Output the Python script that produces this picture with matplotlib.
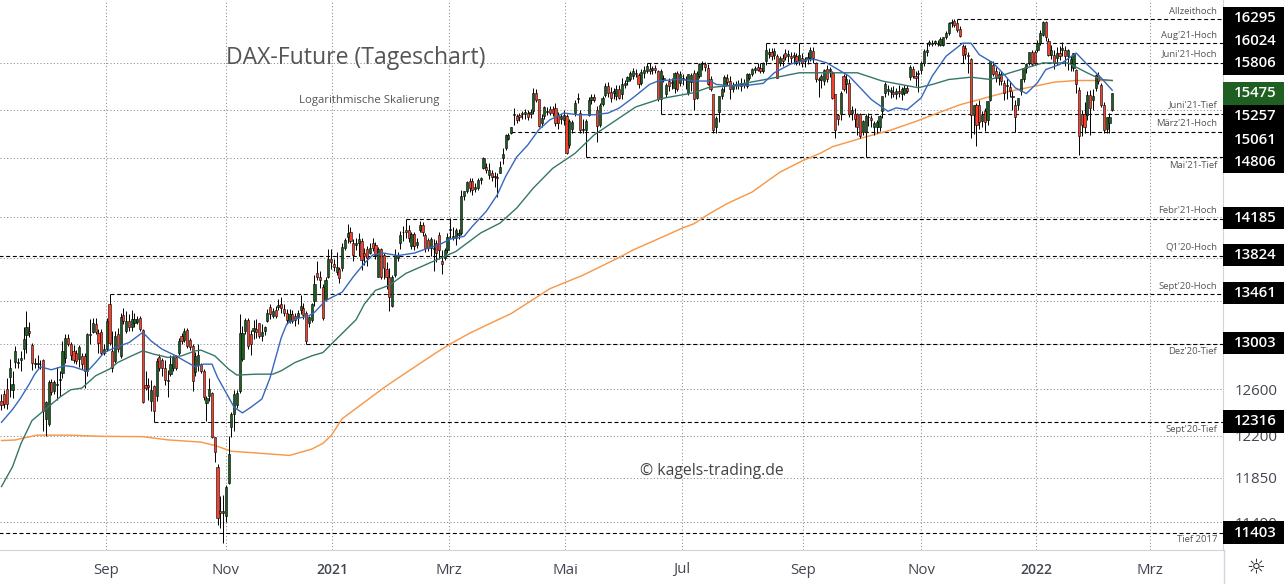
import numpy as np
import matplotlib
matplotlib.use("Agg")
import matplotlib.pyplot as plt
from matplotlib.patches import Rectangle
from matplotlib.ticker import NullLocator

plt.rcParams['font.family'] = ['Open Sans', 'DejaVu Sans']

opens = [
    12500,12557,12600,12704,12590,12840,12830,12860,12955,13086,
    13123,12994,12835,12820,12825,12855,12343,12300,12660,12585,
    12640,12680,12740,12880,13060,13000,12935,12925,12870,12895,
    12895,12757,13092,13108,13184,13098,13108,12925,12955,13370,
    12940,12852,13092,12895,13270,13123,13215,13154,13190,13200,
    13240,13130,12640,12640,12495,12630,12545,12885,12855,12786,
    12680,12735,12786,12882,12925,13077,13036,13130,13036,12985,
    12750,12810,12822,12763,12477,12545,12565,12190,11935,11575,
    11560,11535,11805,12272,12386,12460,12585,12865,13123,13220,
    13090,13120,13140,13190,13077,13123,13215,13338,13260,13310,
    13340,13365,13320,13290,13210,13280,13262,13250,13310,13335,
    13290,13190,13225,13400,13662,13620,13530,13416,13624,13797,
    13750,13670,13695,13705,13900,14010,14055,13950,13930,13950,
    13970,13850,13890,13855,13950,13930,13625,13890,13835,13700,
    13624,13352,13640,13800,13947,14055,14070,14077,13915,14038,
    13930,14070,14125,14028,13980,13897,13890,13947,14028,13770,
    13800,13882,14075,14000,13996,14030,14045,14407,14457,14557,
    14557,14480,14490,14570,14690,14707,14623,14640,14600,14600,
    14640,14800,14895,14990,15054,15247,15230,15240,15265,15250,
    15265,15260,15283,15476,15412,15160,15237,15280,15307,15307,
    15318,15247,15200,15187,15237,14930,15100,15265,15420,15265,
    15090,15090,15247,15400,15440,15300,15142,15360,15460,15555,
    15494,15480,15446,15525,15464,15560,15608,15626,15662,15700,
    15670,15590,15700,15720,15734,15725,15752,15716,15410,15630,
    15465,15608,15600,15536,15698,15590,15630,15620,15482,15600,
    15698,15428,15662,15790,15790,15752,15626,15464,15122,15274,
    15446,15554,15640,15608,15520,15570,15575,15550,15590,15554,
    15640,15680,15730,15760,15745,15720,15824,15900,15930,15890,
    15880,15806,15860,15920,15880,15880,15870,15880,15824,15860,
    15830,15850,15862,15940,15806,15630,15620,15608,15734,15720,
    15698,15464,15240,15250,15662,15572,15590,15270,15260,15250,
    15250,15068,15068,15220,15210,15122,15120,15122,15290,15482,
    15500,15490,15490,15470,15500,15464,15482,15530,15648,15734,
    15660,15690,15726,15806,15930,16020,16030,16030,16030,16006,
    16006,16090,16136,16250,16270,16250,16180,15990,15970,15895,
    15850,15246,15355,15355,15180,15282,15190,15405,15788,15715,
    15640,15680,15589,15550,15540,15440,15355,15355,15500,15625,
    15750,15806,15922,15922,15950,16030,16120,16260,16043,15890,
    15897,15860,15910,15950,15950,15878,15800,15752,15733,15516,
    15250,15250,15246,15462,15400,15535,15679,15560,15354,15100,
    15157,15296]
highs = [
    12560,12590,12700,12870,12760,12985,12880,12940,13154,13308,
    13200,13015,12880,12905,12860,12865,12500,12680,12690,12680,
    12800,12765,13030,13090,13092,13020,12990,12950,12990,12920,
    12920,13100,13230,13240,13240,13140,13140,13000,13240,13461,
    13125,13125,13150,13290,13330,13300,13280,13310,13290,13260,
    13260,13140,12760,12700,12680,12640,12880,12910,12880,12855,
    12770,12900,12900,12900,13060,13100,13150,13150,13060,13000,
    12930,13000,12835,12775,12545,12700,12575,12190,11965,11700,
    11710,11790,12200,12400,12590,12590,13280,13170,13240,13240,
    13130,13220,13230,13195,13185,13170,13320,13365,13330,13350,
    13420,13430,13370,13320,13320,13310,13290,13310,13450,13380,
    13300,13260,13380,13640,13770,13680,13560,13620,13890,13890,
    13790,13860,13720,13950,14000,14130,14100,13990,14000,14040,
    13995,13900,13920,13950,14000,13960,13905,13900,13850,13760,
    13705,13640,13890,13860,14060,14110,14185,14120,14050,14050,
    14000,14160,14150,14040,14000,14010,13990,13980,14050,13880,
    13900,14040,14190,14100,14090,14080,14470,14460,14560,14590,
    14590,14540,14590,14600,14810,14740,14740,14670,14650,14640,
    14760,14900,15040,15060,15120,15320,15260,15270,15290,15310,
    15300,15310,15530,15520,15420,15250,15340,15330,15345,15340,
    15370,15280,15250,15300,15250,15200,15190,15400,15480,15300,
    15200,15200,15440,15470,15470,15340,15370,15450,15590,15600,
    15540,15530,15560,15570,15640,15620,15660,15720,15752,15740,
    15700,15740,15770,15806,15806,15770,15780,15730,15735,15670,
    15590,15640,15640,15710,15720,15720,15680,15660,15690,15700,
    15730,15720,15810,15830,15820,15790,15660,15470,15230,15450,
    15540,15670,15680,15660,15600,15610,15620,15640,15630,15700,
    15700,15750,15770,15810,15800,15815,16024,15970,15970,15970,
    15900,15880,15900,15960,15950,15930,15930,15920,16024,15910,
    15870,15930,15980,15980,15820,15650,15680,15740,15780,15760,
    15720,15470,15260,15500,15690,15680,15630,15338,15320,15265,
    15265,15190,15260,15265,15240,15180,15190,15240,15450,15600,
    15560,15540,15550,15530,15560,15540,15560,15570,15780,15770,
    15720,15730,15830,15960,16024,16060,16060,16060,16060,16090,
    16090,16160,16260,16290,16295,16295,16220,16020,16000,15925,
    15860,15355,15370,15400,15290,15320,15390,15830,15830,15760,
    15720,15720,15620,15640,15610,15500,15400,15430,15630,15760,
    15800,15930,15950,15950,16060,16170,16270,16270,16080,16000,
    15950,15980,15990,16040,15990,15960,15880,15920,15740,15540,
    15300,15380,15500,15510,15520,15690,15710,15590,15380,15228,
    15270,15480]
lows = [
    12420,12440,12430,12530,12520,12790,12790,12760,12865,12925,
    13070,12770,12790,12790,12775,12243,12200,12280,12550,12560,
    12510,12540,12700,12830,12980,12860,12830,12820,12800,12780,
    12610,12720,13000,13100,13090,12920,12900,12900,12940,12990,
    12750,12830,12930,12880,13180,13100,13120,13120,13160,13180,
    13120,12480,12590,12510,12410,12316,12500,12760,12720,12640,
    12530,12720,12760,12770,12900,13000,13020,12970,12950,12585,
    12720,12760,12740,12505,12325,12500,12180,11983,11465,11440,
    11320,11490,11800,12190,12240,12440,12570,12850,13090,12960,
    12900,13050,13060,13060,13030,13080,13200,13230,13240,13240,
    13310,13290,13260,13180,13190,13190,13170,13180,13280,13230,
    13003,13160,13200,13350,13590,13520,13220,13400,13610,13700,
    13680,13640,13570,13680,13880,13950,13950,13770,13880,13820,
    13690,13740,13730,13840,13870,13790,13620,13600,13600,13510,
    13300,13340,13620,13770,13890,13970,14000,13960,13890,13880,
    13900,14050,14020,13860,13870,13820,13680,13760,13790,13650,
    13780,13850,14000,13980,13930,13990,14030,14370,14440,14450,
    14420,14450,14470,14530,14680,14640,14580,14560,14500,14400,
    14640,14730,14880,14980,15040,15140,15160,15180,15200,15200,
    15190,15210,15260,15380,15120,15120,15200,15240,15240,15230,
    15130,15100,15150,15140,14840,14900,15060,15230,15370,15060,
    15060,14806,15230,15360,15380,14960,15120,15340,15440,15440,
    15380,15420,15400,15410,15420,15530,15570,15610,15630,15650,
    15530,15560,15640,15700,15690,15690,15700,15390,15257,15600,
    15440,15500,15520,15480,15500,15550,15570,15520,15460,15500,
    15300,15410,15640,15730,15720,15560,15500,15050,15050,15170,
    15420,15490,15560,15420,15490,15520,15520,15500,15530,15530,
    15620,15660,15700,15720,15700,15700,15780,15860,15840,15850,
    15640,15770,15770,15840,15820,15800,15790,15780,15780,15760,
    15760,15790,15830,15800,15600,15440,15530,15570,15600,15650,
    15420,15000,15140,15190,15500,15480,15220,15190,15120,15030,
    15000,15030,14806,15130,15120,15030,15060,15080,15210,15440,
    15460,15430,15440,15420,15440,15400,15460,15480,15620,15640,
    15550,15490,15690,15770,15880,15990,15990,16000,15990,15990,
    15990,16070,16120,16200,16210,16150,16090,15800,15850,15700,
    15000,15040,14920,15100,15120,15080,15140,15390,15660,15600,
    15570,15560,15400,15410,15440,15300,15061,15300,15460,15600,
    15700,15780,15770,15780,15930,16000,16100,16050,15880,15850,
    15740,15780,15840,15880,15770,15730,15720,15720,15480,14830,
    15020,15050,15190,15030,15300,15500,15580,15330,15060,15060,
    15060,15290]
closes = [
    12460,12470,12470,12787,12650,12935,12840,12880,13046,13154,
    13098,12830,12820,12835,12820,12415,12487,12660,12580,12660,
    12650,12690,12940,13060,13005,12900,12860,12850,12975,12822,
    12757,13090,13080,13190,13108,13015,12925,12955,13215,13015,
    12792,13077,12955,13252,13210,13215,13154,13230,13230,13230,
    13138,12485,12610,12620,12590,12415,12850,12786,12786,12680,
    12670,12825,12885,12786,13030,13030,13117,12985,12975,12670,
    12895,12905,12763,12535,12520,12600,12185,12063,11525,11560,
    11580,11770,12050,12386,12560,12570,13100,13100,13220,12985,
    13000,13150,13110,13077,13108,13154,13290,13280,13300,13260,
    13360,13335,13290,13225,13280,13210,13225,13290,13350,13265,
    13030,13245,13370,13560,13624,13590,13240,13590,13790,13760,
    13720,13720,13610,13907,13980,14040,13970,13835,13950,13985,
    13785,13820,13800,13900,13900,13835,13890,13625,13705,13620,
    13432,13624,13832,13830,14028,14058,14055,13996,14038,13915,
    13960,14125,14050,13897,13897,13985,13900,13850,13882,13750,
    13880,14005,14085,14020,14078,14045,14407,14457,14547,14490,
    14473,14500,14573,14590,14800,14673,14673,14600,14607,14590,
    14700,14842,15036,15036,15117,15260,15194,15220,15250,15275,
    15222,15275,15476,15405,15130,15212,15328,15290,15265,15265,
    15160,15160,15230,15247,14850,15177,15170,15377,15430,15090,
    15100,15177,15405,15440,15400,15124,15352,15430,15555,15476,
    15423,15500,15525,15428,15572,15590,15655,15698,15716,15690,
    15572,15705,15725,15775,15716,15752,15725,15410,15716,15640,
    15568,15554,15590,15698,15526,15680,15640,15630,15680,15670,
    15410,15698,15795,15800,15760,15572,15518,15086,15212,15446,
    15518,15655,15600,15518,15570,15580,15560,15590,15560,15680,
    15680,15734,15745,15730,15720,15806,15950,15930,15885,15940,
    15644,15860,15830,15870,15900,15860,15890,15830,15898,15806,
    15850,15870,15950,15862,15626,15620,15660,15726,15626,15735,
    15428,15086,15200,15482,15518,15626,15250,15300,15200,15122,
    15025,15176,15238,15225,15190,15158,15170,15230,15446,15572,
    15518,15510,15470,15500,15480,15518,15536,15500,15763,15662,
    15640,15700,15806,15933,15950,16032,16020,16043,16020,16068,
    16090,16136,16250,16260,16230,16170,16100,15890,15900,15880,
    15246,15350,15140,15175,15240,15175,15390,15824,15680,15640,
    15680,15607,15480,15560,15500,15450,15228,15426,15625,15750,
    15790,15922,15790,15806,16030,16136,16260,16090,15897,15950,
    15806,15915,15880,15975,15878,15950,15850,15915,15571,15025,
    15140,15120,15462,15318,15444,15679,15607,15354,15086,15228,
    15228,15475]

blue_x = [0,4,7,10,12,14,18,23,26,31,34,37,41,46,51,54,58,63,66,70,73,76,78,82,84,87,90,94,97,101,103,106,111,
          113,117,123,127,131,134,138,143,149,154,158,162,167,170,175,179,182,186,190,194,198,203,208,214,219,223,
          228,234,237,244,252,256,258,264,269,275,279,285,291,294,298,301,306,310,314,320,323,327,
          332,336,341,347,350,353,358,362,366,370,374,377,382,388,392,397,401]
blue_y = [12314,12425,12527,12645,12733,12798,12772,12808,12798,12757,12837,12925,12970,13015,13108,13030,12955,12896,12852,12798,12822,12822,12705,12530,12443,12395,12443,12515,12704,13060,13185,13230,13260,
          13292,13400,13480,13624,13752,13832,13850,13826,13850,13897,13930,13985,14012,14110,14257,14423,14607,14806,14930,15090,15194,15265,15247,15247,15265,15318,
          15428,15572,15608,15626,15608,15608,15572,15554,15561,15583,15698,15795,15842,15842,15806,15752,15662,15536,15410,15284,15320,15302,
          15426,15661,15879,16024,16024,15897,15806,15679,15535,15473,15589,15733,15788,15915,15788,15643,15509]
green_x = [0,4,7,11,16,21,25,29,34,39,42,47,51,55,60,65,70,72,77,82,85,92,98,101,106,112,116,
           128,131,135,140,146,157,164,173,180,186,192,199,207,214,223,
           229,238,250,255,264,276,288,298,309,318,331,336,342,350,357,364,376,385,392,397,401]
green_y = [11777,11941,12132,12329,12429,12530,12596,12610,12719,12778,12837,12896,12941,12911,12882,12896,12941,12947,12896,12778,12725,12733,12733,12763,12837,12896,12925,
           13224,13368,13496,13544,13656,13784,13865,14045,14142,14290,14490,14690,14842,15036,15212,
           15330,15418,15482,15536,15561,15626,15698,15698,15698,15608,15536,15571,15625,15650,15625,15697,15806,15806,15697,15625,15614]
orange_x = [0,5,9,13,24,36,51,60,72,77,83,90,104,112,116,119,123,132,139,146,157,162,169,176,184,198,210,
            223,228,239,246,250,255,262,271,276,281,289,296,300,311,321,
            330,336,346,355,364,373,380,388,401]
orange_y = [12159,12164,12186,12205,12205,12195,12192,12165,12146,12118,12069,12058,12034,12087,12135,12200,12345,12505,12630,12745,12925,13003,13100,13185,13280,13512,13640,
            13808,13880,14010,14095,14135,14225,14335,14450,14550,14650,14765,14850,14912,15006,15085,
            15175,15243,15353,15425,15498,15552,15596,15614,15614]

# dashed support / resistance levels with the bar they start at
level_vals = [16295,16024,15806,15257,15061,14806,14185,13824,13461,13003,12316,11403]
level_start = [345,276,233,238,184,211,146,-1,39,110,55,-1]
level_notes = ['Allzeithoch',"Aug'21-Hoch","Juni'21-Hoch","Juni'21-Tief","März'21-Hoch","Mai'21-Tief",
               "Febr'21-Hoch","Q1'20-Hoch","Sept'20-Hoch","Dez'20-Tief","Sept'20-Tief",'Tief 2017']
note_rows = [11,35,54,105,124,165,211,247,286,352,429,540]
box_rows = [18,41,63,116,140,162,218,255,293,343,421,533]

grid_prices = [15800,15300,14800,14200,13800,13400,13000,12600,12200,11850,11490]
shown_prices = [12600,12200,11850,11490]
month_pos = [37.8,81,119.4,161.6,203.5,245.7,289.4,332,373.5,414.7]
month_labels = ['Sep','Nov','2021','Mrz','Mai','Jul','Sep','Nov','2022','Mrz']

W, H = 1286, 584
UP = '#1b5e20'
DOWN = '#f6402a'
TXT = '#434651'


def px(x, y):
    return x / W, 1 - y / H


fig = plt.figure(figsize=(W / 100, H / 100), dpi=100)
ax = fig.add_axes([0, 34 / H, 1223 / W, 550 / H])
ax.set_yscale('log')
ax.set_xlim(-0.54, 441)
ax.set_ylim(11269, 16512)

idx = np.arange(len(closes))
o = np.array(opens)
c = np.array(closes)
cols = [UP if b >= a else DOWN for a, b in zip(o, c)]

for v in month_pos:
    ax.axvline(v, color='#8a8a8a', lw=0.75, ls=(0, (1, 2.2)), zorder=1)
for v in grid_prices:
    ax.axhline(v, color='#8a8a8a', lw=0.75, ls=(0, (1, 2.2)), zorder=1)

for v, s in zip(level_vals, level_start):
    ax.plot([s, 441], [v, v], color='black', lw=0.8, ls=(0, (3.6, 2.4)), zorder=2)

ax.plot(orange_x, orange_y, color='#f8994a', lw=1.05, zorder=3)
ax.vlines(idx, lows, highs, color='black', lw=0.7, zorder=4)
ax.bar(idx, np.abs(c - o), bottom=np.minimum(o, c), width=0.78, color=cols,
       edgecolor='black', linewidth=0.4, zorder=5)
ax.plot(green_x, green_y, color='#36766a', lw=1.0, zorder=6)
ax.plot(blue_x, blue_y, color='#3568bd', lw=1.0, zorder=7)

ax.yaxis.tick_right()
ax.yaxis.set_minor_locator(NullLocator())
ax.set_yticks(grid_prices)
ax.set_yticklabels([str(v) if v in shown_prices else '' for v in grid_prices])
ax.set_xticks(month_pos)
ax.set_xticklabels(month_labels)
ax.tick_params(axis='both', length=0, labelsize=10.8, labelcolor=TXT)
ax.tick_params(axis='x', pad=9)
ax.tick_params(axis='y', pad=8)
for lab in ax.get_xticklabels():
    if lab.get_text().startswith('20'):
        lab.set_fontweight('semibold')
        lab.set_fontsize(10)
for side in ['top', 'left']:
    ax.spines[side].set_visible(False)
for side in ['bottom', 'right']:
    ax.spines[side].set_color('#d1d4dc')

# vertical divider carries on through the time axis
fig.add_artist(plt.Line2D([1223.5 / W, 1223.5 / W], [0, 34 / H], color='#d1d4dc', lw=1))

box_spans = [(7, 75), (105, 173), (207, 229), (244, 266), (282, 304), (332, 354), (410, 433), (521, 544)]
for top, bot in box_spans:
    x0, y0 = px(1223, bot)
    fig.add_artist(Rectangle((x0, y0), 61 / W, (bot - top) / H, transform=fig.transFigure,
                             color='black', lw=0, zorder=2))
x0, y0 = px(1223, 105)
fig.add_artist(Rectangle((x0, y0), 61 / W, 23 / H, transform=fig.transFigure,
                         color='#1f5f22', lw=0, zorder=2))

for v, r in zip(level_vals, box_rows):
    fig.text(*px(1255, r), str(v), color='white', fontsize=10.8, fontweight='semibold',
             ha='center', va='center', zorder=4)
fig.text(*px(1255, 93), '15475', color='white', fontsize=10.8, fontweight='semibold',
         ha='center', va='center', zorder=4)

for note, r in zip(level_notes, note_rows):
    fig.text(*px(1217, r), note, color='#555', fontsize=6.8, ha='right', va='center', zorder=4)

fig.text(*px(356, 58), 'DAX-Future (Tageschart)', color='#555', fontsize=16.6, ha='center', va='center')
fig.text(*px(369, 101), 'Logarithmische Skalierung', color='#555', fontsize=8.2, ha='center', va='center')
fig.text(*px(712, 471), '© kagels-trading.de', color='#444', fontsize=11.3, ha='center', va='center')
fig.text(*px(1256, 567), '☼', color='#222', fontsize=15, ha='center', va='center', family='DejaVu Sans')

fig.savefig('out.png', dpi=100)
